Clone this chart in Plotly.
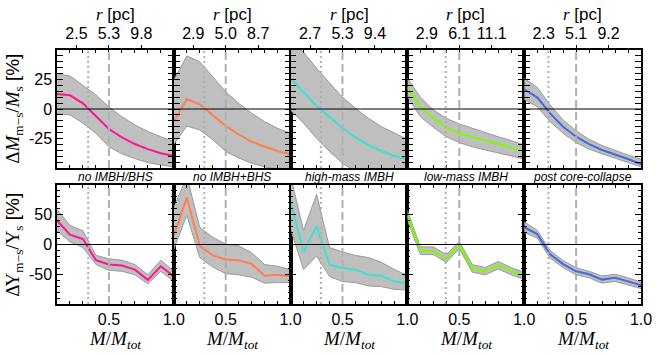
import plotly.graph_objects as go

# fraction of the total mass (x of every panel)
mass_frac = [0.1, 0.2, 0.3, 0.4, 0.5, 0.6, 0.7, 0.8, 0.9, 1.0]

panel_names = ["no IMBH/BHS", "no IMBH+BHS", "high-mass IMBH", "low-mass IMBH", "post core-collapse"]
line_colors = ["#ff1493", "#ff7f50", "#40e0d0", "#7cfc00", "#4169e1"]

# radius labels of the top axis (at M/Mtot = 0.25, 0.5, 0.75)
r_tickvals = [0.25, 0.5, 0.75]
r_ticktext = [
    ["2.5", "5.3", "9.8"],
    ["2.9", "5.0", "8.7"],
    ["2.7", "5.3", "9.4"],
    ["2.9", "6.1", "11.1"],
    ["2.3", "5.1", "9.2"],
]

# dotted line position per model, dashed line is the half-mass radius
dotted_pos = [0.34, 0.335, 0.333, 0.395, 0.287]
half_mass = 0.5

# mass difference Delta M / M [%]
dm_mid = [
    [12.7, 11.6, 4.8, -6.5, -17, -24, -29.7, -34, -37.5, -39.8],
    [-10.7, 8.5, 4, -5, -14.4, -21.5, -27.7, -32, -35.6, -38.4],
    [26, 14.7, 2.5, -6.5, -16.2, -24, -30.5, -35.6, -39.8, -42.6],
    [18.4, 2, -7.9, -15.8, -20.6, -24, -26.8, -29.7, -32.5, -36],
    [16.7, 9.9, -3.7, -15, -23.5, -29.7, -34.7, -38.4, -42.4, -46.6],
]
dm_hi = [
    [29.6, 28, 20, 12, 1.7, -6.5, -13.5, -19, -23.5, -27.7],
    [24.6, 45, 40, 27.4, 14.7, 4.8, -3.6, -10.7, -16.4, -20.6],
    [60, 48, 34.5, 21.8, 9.9, 0.6, -7.9, -15, -20.6, -25.7],
    [26, 10, -0.8, -7.9, -12.7, -16.4, -19.7, -23.5, -26.8, -30.5],
    [26, 18.4, 3.4, -9.3, -18.4, -25.7, -31, -35.3, -39, -42.6],
]
dm_lo = [
    [-3.7, -5, -12, -20.6, -32, -38, -42, -45.5, -47.4, -49],
    [-30, -14.4, -17.8, -26, -36, -41.5, -46, -49, -51, -52],
    [-1, -12, -24.8, -36, -46, -53, -58, -62, -65, -67],
    [10.4, -6.5, -15.5, -23.5, -28.5, -32, -34.7, -37, -39.8, -42.6],
    [8.2, 2, -10.7, -20.6, -28.5, -34, -38, -41.8, -45.5, -49],
]

# mass-to-light difference Delta Upsilon / Upsilon [%]
dy_mid = [
    [40.4, 16.4, 9.1, -26.4, -33.7, -35.4, -42.3, -59.4, -36.6, -53.7],
    [14.7, 78.7, -2.3, -18.3, -25.2, -26.4, -32.6, -52.5, -50.9, -53.7],
    [72, -12.6, 30.8, -33.7, -39.4, -42.3, -50.9, -52.5, -62.3, -65],
    [49, -10.9, -10.9, -24, -1.2, -40.6, -45, -34.8, -45, -52.5],
    [29, 17.6, -16.6, -33, -45, -50, -59, -56, -62, -68.5],
]
dy_hi = [
    [59, 32, 23, -18.3, -24, -26.4, -33.7, -50.9, -26.4, -45],
    [62, 115, 29, 12, 0.5, -2.3, -13.7, -33.7, -36.6, -42.3],
    [115, 23.3, 84.4, -5.2, -12.6, -18.3, -22, -30, -42, -52],
    [57, -4, -4, -17, 5, -34, -38.5, -28.5, -39, -46.5],
    [38, 24, -10, -27, -39, -45, -53, -50, -56, -63],
]
dy_lo = [
    [23, 4.5, -5, -33.7, -43.4, -45, -50.9, -66, -45, -62],
    [-8, 49, -22, -37.7, -49, -51, -55, -65, -64, -64],
    [26, -42.3, -19.4, -53.7, -62.3, -64, -69.7, -70.8, -75.4, -76.5],
    [41, -17, -17, -30, -7, -46.5, -51, -41, -51, -58.5],
    [20, 11, -23, -39, -51, -56, -65, -62, -68, -74],
]

SERIF = "Liberation Serif"
SANS = "Liberation Sans"

fig = go.Figure()
layout = {}

row_domains = [[0.5354, 1.0], [0.0, 0.4685]]
row_data = [(dm_mid, dm_hi, dm_lo), (dy_mid, dy_hi, dy_lo)]
y_ranges = [[-50, 50], [-100, 100]]
y_ticks = [[-25, 0, 25], [-50, 0, 50]]
y_minor = [5, 10]
y_titles = [
    '<span style="font-family:Liberation Serif">Δ<i>M</i><sub>m−s</sub>/<i>M</i><sub>s</sub></span> [%]',
    '<span style="font-family:Liberation Serif">ΔΥ<sub>m−s</sub>/Υ<sub>s</sub></span> [%]',
]
y_title_pos = [0.768, 0.232]

for row in range(2):
    mid_all, hi_all, lo_all = row_data[row]
    for col in range(5):
        k = row * 5 + col + 1
        xa = "x" if k == 1 else f"x{k}"
        ya = "y" if k == 1 else f"y{k}"
        xkey = "xaxis" if k == 1 else f"xaxis{k}"
        ykey = "yaxis" if k == 1 else f"yaxis{k}"

        # uncertainty band
        fig.add_trace(go.Scatter(
            x=mass_frac, y=lo_all[col], mode="lines",
            line=dict(color="#9a9a9a", width=1),
            xaxis=xa, yaxis=ya, showlegend=False, hoverinfo="skip"
        ))
        fig.add_trace(go.Scatter(
            x=mass_frac, y=hi_all[col], mode="lines", fill="tonexty",
            fillcolor="#bfbfbf", line=dict(color="#9a9a9a", width=1),
            xaxis=xa, yaxis=ya, showlegend=False, hoverinfo="skip"
        ))
        # median curve
        fig.add_trace(go.Scatter(
            x=mass_frac, y=mid_all[col], mode="lines",
            line=dict(color=line_colors[col], width=2),
            xaxis=xa, yaxis=ya, showlegend=False
        ))

        layout[xkey] = dict(
            domain=[col / 5, (col + 1) / 5], anchor=ya,
            range=[0.1, 1.0], tickmode="array", tickvals=[0.5, 1.0],
            ticktext=["0.5", "1.0"], showticklabels=(row == 1),
            ticks="inside", ticklen=6, tickwidth=1, tickcolor="black",
            minor=dict(tickmode="linear", tick0=0, dtick=0.1, ticks="inside",
                       ticklen=3, tickcolor="black", showgrid=False),
            mirror="allticks", showline=True, linecolor="black", linewidth=1.5,
            showgrid=False, zeroline=False,
            tickfont=dict(family=SANS, size=16, color="black"),
        )
        if row == 1:
            fig.add_annotation(
                text="<i>M</i>/<i>M</i><sub><i>tot</i></sub>", xref="paper", yref="paper",
                x=(col + 0.5) / 5, y=-0.142, xanchor="center", yanchor="middle",
                showarrow=False, font=dict(family=SERIF, size=19, color="black"))

        layout[ykey] = dict(
            domain=row_domains[row], anchor=xa,
            range=y_ranges[row], tickmode="array", tickvals=y_ticks[row],
            ticktext=[str(v) for v in y_ticks[row]], showticklabels=(col == 0),
            ticks="inside", ticklen=6, tickwidth=1, tickcolor="black",
            minor=dict(tickmode="linear", tick0=0, dtick=y_minor[row], ticks="inside",
                       ticklen=3, tickcolor="black", showgrid=False),
            mirror="allticks", showline=True, linecolor="black", linewidth=1.5,
            showgrid=False, zeroline=False,
            tickfont=dict(family=SANS, size=16, color="black"),
        )
        if col == 0:
            fig.add_annotation(
                text=y_titles[row], xref="paper", yref="paper", textangle=-90,
                x=-0.074, y=y_title_pos[row], xanchor="center", yanchor="middle",
                showarrow=False, font=dict(family=SANS, size=19, color="black"))

        # reference lines
        fig.add_shape(type="line", xref=f"{xa} domain", x0=0, x1=1, yref=ya, y0=0, y1=0,
                      line=dict(color="black", width=1), layer="above")
        fig.add_shape(type="line", xref=xa, x0=dotted_pos[col], x1=dotted_pos[col],
                      yref=f"{ya} domain", y0=0, y1=1,
                      line=dict(color="#b0b0b0", width=2, dash="2px,3px"), layer="above")
        fig.add_shape(type="line", xref=xa, x0=half_mass, x1=half_mass,
                      yref=f"{ya} domain", y0=0, y1=1,
                      line=dict(color="#b0b0b0", width=2, dash="8px,4px"), layer="above")

# top radius axes of the upper row
for col in range(5):
    k = col + 1
    xa = "x" if k == 1 else f"x{k}"
    ya = "y" if k == 1 else f"y{k}"
    layout[f"xaxis{10 + k}"] = dict(
        overlaying=xa, anchor=ya, side="top", range=[0.1, 1.0],
        tickmode="array", tickvals=r_tickvals, ticktext=r_ticktext[col],
        ticks="outside", ticklen=4, tickcolor="black",
        showgrid=False, zeroline=False, showline=False,
        tickfont=dict(family=SANS, size=16, color="black"),
    )
    # invisible anchor trace so the top axis is drawn
    fig.add_trace(go.Scatter(x=[], y=[], xaxis=f"x{10 + k}", yaxis=ya, showlegend=False))
    fig.add_annotation(
        text='<span style="font-family:Liberation Serif"><i>r</i></span> [pc]',
        xref="paper", yref="paper", x=(col + 0.5) / 5, y=1.138,
        xanchor="center", yanchor="middle", showarrow=False,
        font=dict(family=SANS, size=17, color="black"))

for col in range(5):
    fig.add_annotation(
        text=f"<i>{panel_names[col]}</i>", xref="paper", yref="paper",
        x=(col + 0.5) / 5, y=0.5, xanchor="center", yanchor="middle",
        showarrow=False, font=dict(family=SANS, size=12, color="black"),
    )

fig.update_layout(
    **layout,
    width=664, height=355,
    margin=dict(l=57, r=20, t=50, b=51),
    plot_bgcolor="white", paper_bgcolor="white",
    font=dict(family=SANS, size=16, color="black"),
)

fig.write_html("out.html", config={"displayModeBar": False},
               post_script="document.body.style.margin = '0';")
